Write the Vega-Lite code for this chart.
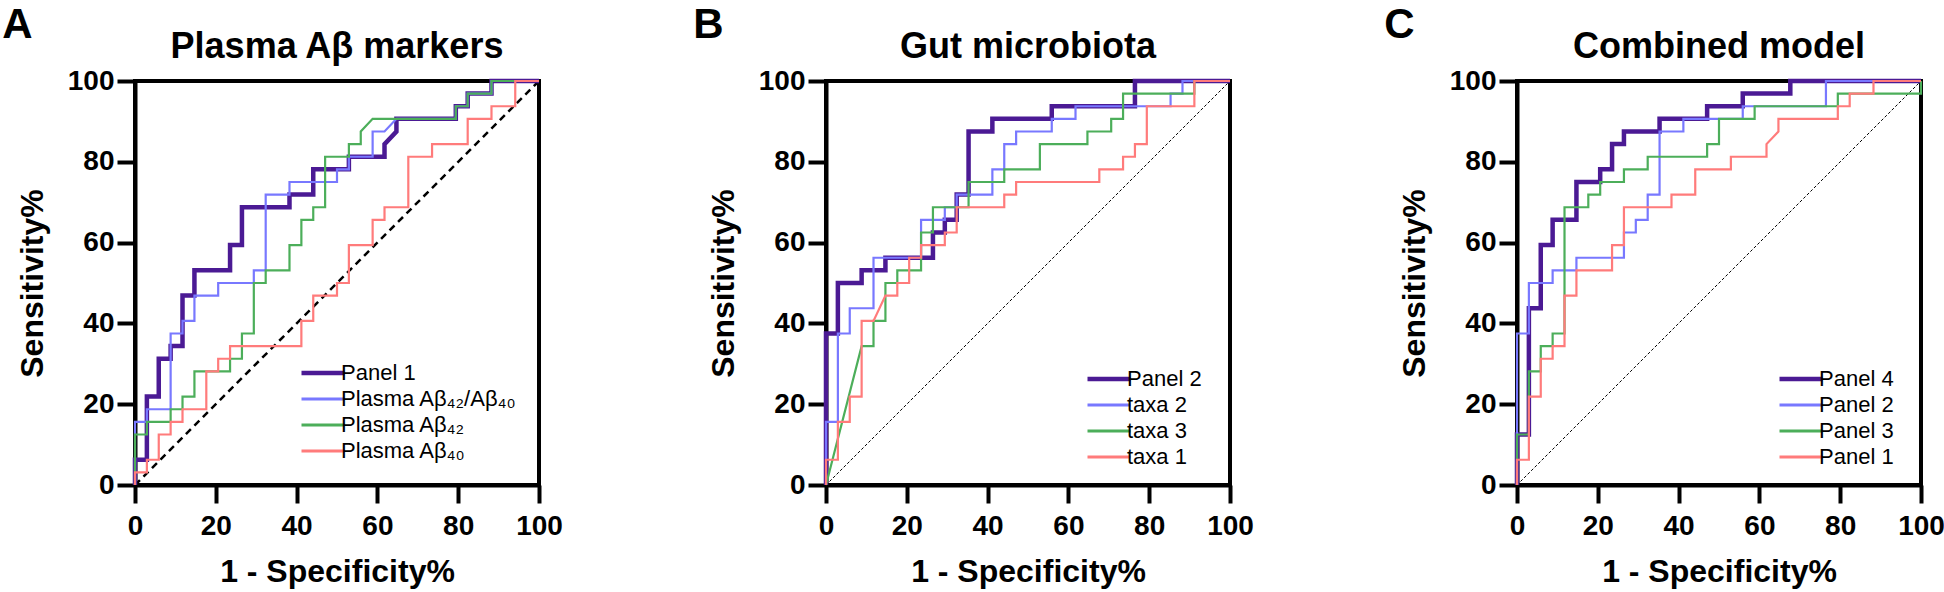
{
"$schema": "https://vega.github.io/schema/vega-lite/v6.json",
"padding": {"left": 2, "top": 4, "right": 0, "bottom": 0},
"config": {
 "font": "Liberation Sans",
 "view": {"stroke": "black", "strokeWidth": 4},
 "axis": {"domainColor": "black", "domainWidth": 4, "tickColor": "black", "tickWidth": 4, "tickSize": 18, "labelFont": "Liberation Sans", "labelFontSize": 28, "labelFontWeight": "bold", "labelColor": "black", "titleFont": "Liberation Sans", "titleFontSize": 32, "titleFontWeight": "bold", "titleColor": "black", "grid": false, "labelFlush": false, "labelOverlap": false},
 "axisX": {"labelPadding": 9, "titlePadding": 16},
 "axisY": {"labelPadding": 3, "titlePadding": 18},
 "title": {"font": "Liberation Sans", "fontWeight": "bold", "color": "black"},
 "legend": {"orient": "none", "padding": 0, "symbolType": "stroke", "symbolSize": 1849, "symbolStrokeWidth": 3, "labelFontSize": 22, "labelFont": "Liberation Sans", "labelColor": "black", "labelOffset": 7, "rowPadding": 4, "labelLimit": 400}
},
"datasets": {
 "diag": [{"x": 0, "y": 0}, {"x": 100, "y": 100}],
 "rocA": [
{"s":"Panel 1","i":0,"x":0,"y":0},{"s":"Panel 1","i":1,"x":0,"y":6.25},{"s":"Panel 1","i":2,"x":2.94,"y":6.25},{"s":"Panel 1","i":3,"x":2.94,"y":21.88},{"s":"Panel 1","i":4,"x":5.88,"y":21.88},{"s":"Panel 1","i":5,"x":5.88,"y":31.25},{"s":"Panel 1","i":6,"x":8.82,"y":31.25},{"s":"Panel 1","i":7,"x":8.82,"y":34.38},{"s":"Panel 1","i":8,"x":11.76,"y":34.38},{"s":"Panel 1","i":9,"x":11.76,"y":46.88},{"s":"Panel 1","i":10,"x":14.71,"y":46.88},{"s":"Panel 1","i":11,"x":14.71,"y":53.13},{"s":"Panel 1","i":12,"x":23.53,"y":53.13},{"s":"Panel 1","i":13,"x":23.53,"y":59.38},{"s":"Panel 1","i":14,"x":26.47,"y":59.38},{"s":"Panel 1","i":15,"x":26.47,"y":68.75},{"s":"Panel 1","i":16,"x":38.24,"y":68.75},{"s":"Panel 1","i":17,"x":38.24,"y":71.88},{"s":"Panel 1","i":18,"x":44.12,"y":71.88},{"s":"Panel 1","i":19,"x":44.12,"y":78.13},{"s":"Panel 1","i":20,"x":52.94,"y":78.13},{"s":"Panel 1","i":21,"x":52.94,"y":81.25},{"s":"Panel 1","i":22,"x":61.76,"y":81.25},{"s":"Panel 1","i":23,"x":61.76,"y":84.38},{"s":"Panel 1","i":24,"x":64.71,"y":87.5},{"s":"Panel 1","i":25,"x":64.71,"y":90.63},{"s":"Panel 1","i":26,"x":79.41,"y":90.63},{"s":"Panel 1","i":27,"x":79.41,"y":93.75},{"s":"Panel 1","i":28,"x":82.35,"y":93.75},{"s":"Panel 1","i":29,"x":82.35,"y":96.88},{"s":"Panel 1","i":30,"x":88.24,"y":96.88},{"s":"Panel 1","i":31,"x":88.24,"y":100},{"s":"Panel 1","i":32,"x":100,"y":100},
{"s":"Plasma Aβ₄₂/Aβ₄₀","i":0,"x":0,"y":0},{"s":"Plasma Aβ₄₂/Aβ₄₀","i":1,"x":0,"y":15.63},{"s":"Plasma Aβ₄₂/Aβ₄₀","i":2,"x":2.94,"y":15.63},{"s":"Plasma Aβ₄₂/Aβ₄₀","i":3,"x":2.94,"y":18.75},{"s":"Plasma Aβ₄₂/Aβ₄₀","i":4,"x":8.82,"y":18.75},{"s":"Plasma Aβ₄₂/Aβ₄₀","i":5,"x":8.82,"y":37.5},{"s":"Plasma Aβ₄₂/Aβ₄₀","i":6,"x":11.76,"y":37.5},{"s":"Plasma Aβ₄₂/Aβ₄₀","i":7,"x":11.76,"y":40.63},{"s":"Plasma Aβ₄₂/Aβ₄₀","i":8,"x":14.71,"y":40.63},{"s":"Plasma Aβ₄₂/Aβ₄₀","i":9,"x":14.71,"y":46.88},{"s":"Plasma Aβ₄₂/Aβ₄₀","i":10,"x":20.59,"y":46.88},{"s":"Plasma Aβ₄₂/Aβ₄₀","i":11,"x":20.59,"y":50},{"s":"Plasma Aβ₄₂/Aβ₄₀","i":12,"x":29.41,"y":50},{"s":"Plasma Aβ₄₂/Aβ₄₀","i":13,"x":29.41,"y":53.13},{"s":"Plasma Aβ₄₂/Aβ₄₀","i":14,"x":32.35,"y":53.13},{"s":"Plasma Aβ₄₂/Aβ₄₀","i":15,"x":32.35,"y":71.88},{"s":"Plasma Aβ₄₂/Aβ₄₀","i":16,"x":38.24,"y":71.88},{"s":"Plasma Aβ₄₂/Aβ₄₀","i":17,"x":38.24,"y":75},{"s":"Plasma Aβ₄₂/Aβ₄₀","i":18,"x":50,"y":75},{"s":"Plasma Aβ₄₂/Aβ₄₀","i":19,"x":50,"y":78.13},{"s":"Plasma Aβ₄₂/Aβ₄₀","i":20,"x":52.94,"y":78.13},{"s":"Plasma Aβ₄₂/Aβ₄₀","i":21,"x":52.94,"y":81.25},{"s":"Plasma Aβ₄₂/Aβ₄₀","i":22,"x":58.82,"y":81.25},{"s":"Plasma Aβ₄₂/Aβ₄₀","i":23,"x":58.82,"y":87.5},{"s":"Plasma Aβ₄₂/Aβ₄₀","i":24,"x":61.76,"y":87.5},{"s":"Plasma Aβ₄₂/Aβ₄₀","i":25,"x":64.71,"y":90.63},{"s":"Plasma Aβ₄₂/Aβ₄₀","i":26,"x":79.41,"y":90.63},{"s":"Plasma Aβ₄₂/Aβ₄₀","i":27,"x":79.41,"y":93.75},{"s":"Plasma Aβ₄₂/Aβ₄₀","i":28,"x":82.35,"y":93.75},{"s":"Plasma Aβ₄₂/Aβ₄₀","i":29,"x":82.35,"y":96.88},{"s":"Plasma Aβ₄₂/Aβ₄₀","i":30,"x":88.24,"y":96.88},{"s":"Plasma Aβ₄₂/Aβ₄₀","i":31,"x":88.24,"y":100},{"s":"Plasma Aβ₄₂/Aβ₄₀","i":32,"x":100,"y":100},
{"s":"Plasma Aβ₄₂","i":0,"x":0,"y":0},{"s":"Plasma Aβ₄₂","i":1,"x":0,"y":12.5},{"s":"Plasma Aβ₄₂","i":2,"x":2.94,"y":12.5},{"s":"Plasma Aβ₄₂","i":3,"x":2.94,"y":15.63},{"s":"Plasma Aβ₄₂","i":4,"x":8.82,"y":15.63},{"s":"Plasma Aβ₄₂","i":5,"x":8.82,"y":18.75},{"s":"Plasma Aβ₄₂","i":6,"x":11.76,"y":18.75},{"s":"Plasma Aβ₄₂","i":7,"x":11.76,"y":21.88},{"s":"Plasma Aβ₄₂","i":8,"x":14.71,"y":21.88},{"s":"Plasma Aβ₄₂","i":9,"x":14.71,"y":28.13},{"s":"Plasma Aβ₄₂","i":10,"x":23.53,"y":28.13},{"s":"Plasma Aβ₄₂","i":11,"x":23.53,"y":31.25},{"s":"Plasma Aβ₄₂","i":12,"x":26.47,"y":31.25},{"s":"Plasma Aβ₄₂","i":13,"x":26.47,"y":37.5},{"s":"Plasma Aβ₄₂","i":14,"x":29.41,"y":37.5},{"s":"Plasma Aβ₄₂","i":15,"x":29.41,"y":50},{"s":"Plasma Aβ₄₂","i":16,"x":32.35,"y":50},{"s":"Plasma Aβ₄₂","i":17,"x":32.35,"y":53.13},{"s":"Plasma Aβ₄₂","i":18,"x":38.24,"y":53.13},{"s":"Plasma Aβ₄₂","i":19,"x":38.24,"y":59.38},{"s":"Plasma Aβ₄₂","i":20,"x":41.18,"y":59.38},{"s":"Plasma Aβ₄₂","i":21,"x":41.18,"y":65.63},{"s":"Plasma Aβ₄₂","i":22,"x":44.12,"y":65.63},{"s":"Plasma Aβ₄₂","i":23,"x":44.12,"y":68.75},{"s":"Plasma Aβ₄₂","i":24,"x":47.06,"y":68.75},{"s":"Plasma Aβ₄₂","i":25,"x":47.06,"y":81.25},{"s":"Plasma Aβ₄₂","i":26,"x":52.94,"y":81.25},{"s":"Plasma Aβ₄₂","i":27,"x":52.94,"y":84.38},{"s":"Plasma Aβ₄₂","i":28,"x":55.88,"y":84.38},{"s":"Plasma Aβ₄₂","i":29,"x":55.88,"y":87.5},{"s":"Plasma Aβ₄₂","i":30,"x":58.82,"y":90.63},{"s":"Plasma Aβ₄₂","i":31,"x":79.41,"y":90.63},{"s":"Plasma Aβ₄₂","i":32,"x":79.41,"y":93.75},{"s":"Plasma Aβ₄₂","i":33,"x":82.35,"y":93.75},{"s":"Plasma Aβ₄₂","i":34,"x":82.35,"y":96.88},{"s":"Plasma Aβ₄₂","i":35,"x":88.24,"y":96.88},{"s":"Plasma Aβ₄₂","i":36,"x":88.24,"y":100},{"s":"Plasma Aβ₄₂","i":37,"x":100,"y":100},
{"s":"Plasma Aβ₄₀","i":0,"x":0,"y":0},{"s":"Plasma Aβ₄₀","i":1,"x":0,"y":3.13},{"s":"Plasma Aβ₄₀","i":2,"x":2.94,"y":3.13},{"s":"Plasma Aβ₄₀","i":3,"x":2.94,"y":6.25},{"s":"Plasma Aβ₄₀","i":4,"x":5.88,"y":6.25},{"s":"Plasma Aβ₄₀","i":5,"x":5.88,"y":12.5},{"s":"Plasma Aβ₄₀","i":6,"x":8.82,"y":12.5},{"s":"Plasma Aβ₄₀","i":7,"x":8.82,"y":15.63},{"s":"Plasma Aβ₄₀","i":8,"x":11.76,"y":15.63},{"s":"Plasma Aβ₄₀","i":9,"x":11.76,"y":18.75},{"s":"Plasma Aβ₄₀","i":10,"x":17.65,"y":18.75},{"s":"Plasma Aβ₄₀","i":11,"x":17.65,"y":28.13},{"s":"Plasma Aβ₄₀","i":12,"x":20.59,"y":28.13},{"s":"Plasma Aβ₄₀","i":13,"x":20.59,"y":31.25},{"s":"Plasma Aβ₄₀","i":14,"x":23.53,"y":31.25},{"s":"Plasma Aβ₄₀","i":15,"x":23.53,"y":34.38},{"s":"Plasma Aβ₄₀","i":16,"x":41.18,"y":34.38},{"s":"Plasma Aβ₄₀","i":17,"x":41.18,"y":40.63},{"s":"Plasma Aβ₄₀","i":18,"x":44.12,"y":40.63},{"s":"Plasma Aβ₄₀","i":19,"x":44.12,"y":46.88},{"s":"Plasma Aβ₄₀","i":20,"x":50,"y":46.88},{"s":"Plasma Aβ₄₀","i":21,"x":50,"y":50},{"s":"Plasma Aβ₄₀","i":22,"x":52.94,"y":50},{"s":"Plasma Aβ₄₀","i":23,"x":52.94,"y":59.38},{"s":"Plasma Aβ₄₀","i":24,"x":58.82,"y":59.38},{"s":"Plasma Aβ₄₀","i":25,"x":58.82,"y":65.63},{"s":"Plasma Aβ₄₀","i":26,"x":61.76,"y":65.63},{"s":"Plasma Aβ₄₀","i":27,"x":61.76,"y":68.75},{"s":"Plasma Aβ₄₀","i":28,"x":67.65,"y":68.75},{"s":"Plasma Aβ₄₀","i":29,"x":67.65,"y":81.25},{"s":"Plasma Aβ₄₀","i":30,"x":73.53,"y":81.25},{"s":"Plasma Aβ₄₀","i":31,"x":73.53,"y":84.38},{"s":"Plasma Aβ₄₀","i":32,"x":82.35,"y":84.38},{"s":"Plasma Aβ₄₀","i":33,"x":82.35,"y":90.63},{"s":"Plasma Aβ₄₀","i":34,"x":88.24,"y":90.63},{"s":"Plasma Aβ₄₀","i":35,"x":88.24,"y":93.75},{"s":"Plasma Aβ₄₀","i":36,"x":94.12,"y":93.75},{"s":"Plasma Aβ₄₀","i":37,"x":94.12,"y":100},{"s":"Plasma Aβ₄₀","i":38,"x":100,"y":100}
 ],
 "rocB": [
{"s":"Panel 2","i":0,"x":0,"y":0},{"s":"Panel 2","i":1,"x":0,"y":37.5},{"s":"Panel 2","i":2,"x":2.94,"y":37.5},{"s":"Panel 2","i":3,"x":2.94,"y":50},{"s":"Panel 2","i":4,"x":8.82,"y":50},{"s":"Panel 2","i":5,"x":8.82,"y":53.13},{"s":"Panel 2","i":6,"x":14.71,"y":53.13},{"s":"Panel 2","i":7,"x":14.71,"y":56.25},{"s":"Panel 2","i":8,"x":26.47,"y":56.25},{"s":"Panel 2","i":9,"x":26.47,"y":62.5},{"s":"Panel 2","i":10,"x":29.41,"y":62.5},{"s":"Panel 2","i":11,"x":29.41,"y":65.63},{"s":"Panel 2","i":12,"x":32.35,"y":65.63},{"s":"Panel 2","i":13,"x":32.35,"y":71.88},{"s":"Panel 2","i":14,"x":35.29,"y":71.88},{"s":"Panel 2","i":15,"x":35.29,"y":87.5},{"s":"Panel 2","i":16,"x":41.18,"y":87.5},{"s":"Panel 2","i":17,"x":41.18,"y":90.63},{"s":"Panel 2","i":18,"x":55.88,"y":90.63},{"s":"Panel 2","i":19,"x":55.88,"y":93.75},{"s":"Panel 2","i":20,"x":76.47,"y":93.75},{"s":"Panel 2","i":21,"x":76.47,"y":100},{"s":"Panel 2","i":22,"x":100,"y":100},
{"s":"taxa 2","i":0,"x":0,"y":0},{"s":"taxa 2","i":1,"x":0,"y":15.63},{"s":"taxa 2","i":2,"x":2.94,"y":15.63},{"s":"taxa 2","i":3,"x":2.94,"y":37.5},{"s":"taxa 2","i":4,"x":5.88,"y":37.5},{"s":"taxa 2","i":5,"x":5.88,"y":43.75},{"s":"taxa 2","i":6,"x":11.76,"y":43.75},{"s":"taxa 2","i":7,"x":11.76,"y":56.25},{"s":"taxa 2","i":8,"x":23.53,"y":56.25},{"s":"taxa 2","i":9,"x":23.53,"y":65.63},{"s":"taxa 2","i":10,"x":29.41,"y":65.63},{"s":"taxa 2","i":11,"x":29.41,"y":68.75},{"s":"taxa 2","i":12,"x":32.35,"y":68.75},{"s":"taxa 2","i":13,"x":32.35,"y":71.88},{"s":"taxa 2","i":14,"x":41.18,"y":71.88},{"s":"taxa 2","i":15,"x":41.18,"y":78.13},{"s":"taxa 2","i":16,"x":44.12,"y":78.13},{"s":"taxa 2","i":17,"x":44.12,"y":84.38},{"s":"taxa 2","i":18,"x":47.06,"y":84.38},{"s":"taxa 2","i":19,"x":47.06,"y":87.5},{"s":"taxa 2","i":20,"x":55.88,"y":87.5},{"s":"taxa 2","i":21,"x":55.88,"y":90.63},{"s":"taxa 2","i":22,"x":61.76,"y":90.63},{"s":"taxa 2","i":23,"x":61.76,"y":93.75},{"s":"taxa 2","i":24,"x":85.29,"y":93.75},{"s":"taxa 2","i":25,"x":85.29,"y":96.88},{"s":"taxa 2","i":26,"x":88.24,"y":96.88},{"s":"taxa 2","i":27,"x":88.24,"y":100},{"s":"taxa 2","i":28,"x":100,"y":100},
{"s":"taxa 3","i":0,"x":0,"y":0},{"s":"taxa 3","i":1,"x":8.82,"y":34.38},{"s":"taxa 3","i":2,"x":11.76,"y":34.38},{"s":"taxa 3","i":3,"x":11.76,"y":40.63},{"s":"taxa 3","i":4,"x":14.71,"y":40.63},{"s":"taxa 3","i":5,"x":14.71,"y":50},{"s":"taxa 3","i":6,"x":17.65,"y":50},{"s":"taxa 3","i":7,"x":17.65,"y":53.13},{"s":"taxa 3","i":8,"x":23.53,"y":53.13},{"s":"taxa 3","i":9,"x":23.53,"y":62.5},{"s":"taxa 3","i":10,"x":26.47,"y":62.5},{"s":"taxa 3","i":11,"x":26.47,"y":68.75},{"s":"taxa 3","i":12,"x":35.29,"y":68.75},{"s":"taxa 3","i":13,"x":35.29,"y":75},{"s":"taxa 3","i":14,"x":44.12,"y":75},{"s":"taxa 3","i":15,"x":44.12,"y":78.13},{"s":"taxa 3","i":16,"x":52.94,"y":78.13},{"s":"taxa 3","i":17,"x":52.94,"y":84.38},{"s":"taxa 3","i":18,"x":64.71,"y":84.38},{"s":"taxa 3","i":19,"x":64.71,"y":87.5},{"s":"taxa 3","i":20,"x":70.59,"y":87.5},{"s":"taxa 3","i":21,"x":70.59,"y":90.63},{"s":"taxa 3","i":22,"x":73.53,"y":90.63},{"s":"taxa 3","i":23,"x":73.53,"y":96.88},{"s":"taxa 3","i":24,"x":91.18,"y":96.88},{"s":"taxa 3","i":25,"x":91.18,"y":100},{"s":"taxa 3","i":26,"x":100,"y":100},
{"s":"taxa 1","i":0,"x":0,"y":0},{"s":"taxa 1","i":1,"x":0,"y":6.25},{"s":"taxa 1","i":2,"x":2.94,"y":6.25},{"s":"taxa 1","i":3,"x":2.94,"y":15.63},{"s":"taxa 1","i":4,"x":5.88,"y":15.63},{"s":"taxa 1","i":5,"x":5.88,"y":21.88},{"s":"taxa 1","i":6,"x":8.82,"y":21.88},{"s":"taxa 1","i":7,"x":8.82,"y":40.63},{"s":"taxa 1","i":8,"x":11.76,"y":40.63},{"s":"taxa 1","i":9,"x":14.71,"y":46.88},{"s":"taxa 1","i":10,"x":17.65,"y":46.88},{"s":"taxa 1","i":11,"x":17.65,"y":50},{"s":"taxa 1","i":12,"x":20.59,"y":50},{"s":"taxa 1","i":13,"x":20.59,"y":56.25},{"s":"taxa 1","i":14,"x":23.53,"y":56.25},{"s":"taxa 1","i":15,"x":23.53,"y":59.38},{"s":"taxa 1","i":16,"x":29.41,"y":59.38},{"s":"taxa 1","i":17,"x":29.41,"y":62.5},{"s":"taxa 1","i":18,"x":32.35,"y":62.5},{"s":"taxa 1","i":19,"x":32.35,"y":68.75},{"s":"taxa 1","i":20,"x":44.12,"y":68.75},{"s":"taxa 1","i":21,"x":44.12,"y":71.88},{"s":"taxa 1","i":22,"x":47.06,"y":71.88},{"s":"taxa 1","i":23,"x":47.06,"y":75},{"s":"taxa 1","i":24,"x":67.65,"y":75},{"s":"taxa 1","i":25,"x":67.65,"y":78.13},{"s":"taxa 1","i":26,"x":73.53,"y":78.13},{"s":"taxa 1","i":27,"x":73.53,"y":81.25},{"s":"taxa 1","i":28,"x":76.47,"y":81.25},{"s":"taxa 1","i":29,"x":76.47,"y":84.38},{"s":"taxa 1","i":30,"x":79.41,"y":84.38},{"s":"taxa 1","i":31,"x":79.41,"y":93.75},{"s":"taxa 1","i":32,"x":91.18,"y":93.75},{"s":"taxa 1","i":33,"x":91.18,"y":100},{"s":"taxa 1","i":34,"x":100,"y":100}
 ],
 "rocC": [
{"s":"Panel 4","i":0,"x":0,"y":0},{"s":"Panel 4","i":1,"x":0,"y":12.5},{"s":"Panel 4","i":2,"x":2.94,"y":12.5},{"s":"Panel 4","i":3,"x":2.94,"y":43.75},{"s":"Panel 4","i":4,"x":5.88,"y":43.75},{"s":"Panel 4","i":5,"x":5.88,"y":59.38},{"s":"Panel 4","i":6,"x":8.82,"y":59.38},{"s":"Panel 4","i":7,"x":8.82,"y":65.63},{"s":"Panel 4","i":8,"x":14.71,"y":65.63},{"s":"Panel 4","i":9,"x":14.71,"y":75},{"s":"Panel 4","i":10,"x":20.59,"y":75},{"s":"Panel 4","i":11,"x":20.59,"y":78.13},{"s":"Panel 4","i":12,"x":23.53,"y":78.13},{"s":"Panel 4","i":13,"x":23.53,"y":84.38},{"s":"Panel 4","i":14,"x":26.47,"y":84.38},{"s":"Panel 4","i":15,"x":26.47,"y":87.5},{"s":"Panel 4","i":16,"x":35.29,"y":87.5},{"s":"Panel 4","i":17,"x":35.29,"y":90.63},{"s":"Panel 4","i":18,"x":47.06,"y":90.63},{"s":"Panel 4","i":19,"x":47.06,"y":93.75},{"s":"Panel 4","i":20,"x":55.88,"y":93.75},{"s":"Panel 4","i":21,"x":55.88,"y":96.88},{"s":"Panel 4","i":22,"x":67.65,"y":96.88},{"s":"Panel 4","i":23,"x":67.65,"y":100},{"s":"Panel 4","i":24,"x":100,"y":100},
{"s":"Panel 2","i":0,"x":0,"y":0},{"s":"Panel 2","i":1,"x":0,"y":37.5},{"s":"Panel 2","i":2,"x":2.94,"y":37.5},{"s":"Panel 2","i":3,"x":2.94,"y":50},{"s":"Panel 2","i":4,"x":8.82,"y":50},{"s":"Panel 2","i":5,"x":8.82,"y":53.13},{"s":"Panel 2","i":6,"x":14.71,"y":53.13},{"s":"Panel 2","i":7,"x":14.71,"y":56.25},{"s":"Panel 2","i":8,"x":26.47,"y":56.25},{"s":"Panel 2","i":9,"x":26.47,"y":62.5},{"s":"Panel 2","i":10,"x":29.41,"y":62.5},{"s":"Panel 2","i":11,"x":29.41,"y":65.63},{"s":"Panel 2","i":12,"x":32.35,"y":65.63},{"s":"Panel 2","i":13,"x":32.35,"y":71.88},{"s":"Panel 2","i":14,"x":35.29,"y":71.88},{"s":"Panel 2","i":15,"x":35.29,"y":87.5},{"s":"Panel 2","i":16,"x":41.18,"y":87.5},{"s":"Panel 2","i":17,"x":41.18,"y":90.63},{"s":"Panel 2","i":18,"x":55.88,"y":90.63},{"s":"Panel 2","i":19,"x":55.88,"y":93.75},{"s":"Panel 2","i":20,"x":76.47,"y":93.75},{"s":"Panel 2","i":21,"x":76.47,"y":100},{"s":"Panel 2","i":22,"x":100,"y":100},
{"s":"Panel 3","i":0,"x":0,"y":0},{"s":"Panel 3","i":1,"x":0,"y":12.5},{"s":"Panel 3","i":2,"x":2.94,"y":12.5},{"s":"Panel 3","i":3,"x":2.94,"y":28.13},{"s":"Panel 3","i":4,"x":5.88,"y":28.13},{"s":"Panel 3","i":5,"x":5.88,"y":34.38},{"s":"Panel 3","i":6,"x":8.82,"y":34.38},{"s":"Panel 3","i":7,"x":8.82,"y":37.5},{"s":"Panel 3","i":8,"x":11.76,"y":37.5},{"s":"Panel 3","i":9,"x":11.76,"y":68.75},{"s":"Panel 3","i":10,"x":17.65,"y":68.75},{"s":"Panel 3","i":11,"x":17.65,"y":71.88},{"s":"Panel 3","i":12,"x":20.59,"y":71.88},{"s":"Panel 3","i":13,"x":20.59,"y":75},{"s":"Panel 3","i":14,"x":26.47,"y":75},{"s":"Panel 3","i":15,"x":26.47,"y":78.13},{"s":"Panel 3","i":16,"x":32.35,"y":78.13},{"s":"Panel 3","i":17,"x":32.35,"y":81.25},{"s":"Panel 3","i":18,"x":47.06,"y":81.25},{"s":"Panel 3","i":19,"x":47.06,"y":84.38},{"s":"Panel 3","i":20,"x":50,"y":84.38},{"s":"Panel 3","i":21,"x":50,"y":90.63},{"s":"Panel 3","i":22,"x":58.82,"y":90.63},{"s":"Panel 3","i":23,"x":58.82,"y":93.75},{"s":"Panel 3","i":24,"x":79.41,"y":93.75},{"s":"Panel 3","i":25,"x":79.41,"y":96.88},{"s":"Panel 3","i":26,"x":100,"y":96.88},{"s":"Panel 3","i":27,"x":100,"y":100},
{"s":"Panel 1","i":0,"x":0,"y":0},{"s":"Panel 1","i":1,"x":0,"y":6.25},{"s":"Panel 1","i":2,"x":2.94,"y":6.25},{"s":"Panel 1","i":3,"x":2.94,"y":21.88},{"s":"Panel 1","i":4,"x":5.88,"y":21.88},{"s":"Panel 1","i":5,"x":5.88,"y":31.25},{"s":"Panel 1","i":6,"x":8.82,"y":31.25},{"s":"Panel 1","i":7,"x":8.82,"y":34.38},{"s":"Panel 1","i":8,"x":11.76,"y":34.38},{"s":"Panel 1","i":9,"x":11.76,"y":46.88},{"s":"Panel 1","i":10,"x":14.71,"y":46.88},{"s":"Panel 1","i":11,"x":14.71,"y":53.13},{"s":"Panel 1","i":12,"x":23.53,"y":53.13},{"s":"Panel 1","i":13,"x":23.53,"y":59.38},{"s":"Panel 1","i":14,"x":26.47,"y":59.38},{"s":"Panel 1","i":15,"x":26.47,"y":68.75},{"s":"Panel 1","i":16,"x":38.24,"y":68.75},{"s":"Panel 1","i":17,"x":38.24,"y":71.88},{"s":"Panel 1","i":18,"x":44.12,"y":71.88},{"s":"Panel 1","i":19,"x":44.12,"y":78.13},{"s":"Panel 1","i":20,"x":52.94,"y":78.13},{"s":"Panel 1","i":21,"x":52.94,"y":81.25},{"s":"Panel 1","i":22,"x":61.76,"y":81.25},{"s":"Panel 1","i":23,"x":61.76,"y":84.38},{"s":"Panel 1","i":24,"x":64.71,"y":87.5},{"s":"Panel 1","i":25,"x":64.71,"y":90.63},{"s":"Panel 1","i":26,"x":79.41,"y":90.63},{"s":"Panel 1","i":27,"x":79.41,"y":93.75},{"s":"Panel 1","i":28,"x":82.35,"y":93.75},{"s":"Panel 1","i":29,"x":82.35,"y":96.88},{"s":"Panel 1","i":30,"x":88.24,"y":96.88},{"s":"Panel 1","i":31,"x":88.24,"y":100},{"s":"Panel 1","i":32,"x":100,"y":100}
 ]
},
"spacing": 128,
"resolve": {"scale": {"color": "independent"}, "legend": {"color": "independent"}},
"hconcat": [
 {"title": {"text": "A", "anchor": "start", "fontSize": 42, "dx": -12, "offset": -20},
  "resolve": {"scale": {"color": "independent"}, "legend": {"color": "independent"}},
  "vconcat": [
  {"title": {"text": "Plasma Aβ markers", "fontSize": 36, "baseline": "alphabetic", "offset": -27},
   "width": 404, "height": 404,
   "encoding": {"x": {"field": "x", "type": "quantitative", "scale": {"domain": [0, 100], "nice": false}, "axis": {"values": [0, 20, 40, 60, 80, 100], "title": "1 - Specificity%"}},
                "y": {"field": "y", "type": "quantitative", "scale": {"domain": [0, 100], "nice": false}, "axis": {"values": [0, 20, 40, 60, 80, 100], "title": "Sensitivity%"}}},
   "layer": [
    {"data": {"name": "diag"}, "mark": {"type": "line", "color": "black", "strokeWidth": 2.5, "strokeDash": [7, 5]}},
    {"data": {"name": "rocA"}, "transform": [{"filter": "datum.s === 'Panel 1'"}], "mark": {"type": "line", "strokeWidth": 4.5},
     "encoding": {"order": {"field": "i", "type": "quantitative"},
      "color": {"field": "s", "type": "nominal", "scale": {"domain": ["Panel 1", "Plasma Aβ₄₂/Aβ₄₀", "Plasma Aβ₄₂", "Plasma Aβ₄₀"], "range": ["#4b1a94", "#7878ff", "#4cae5a", "#ff7b7b"]},
       "legend": {"title": null, "orient": "none", "legendX": 177, "legendY": 281, "encode": {"symbols": {"update": {"strokeWidth": {"signal": "datum.value === 'Panel 1' ? 4.5 : 3"}}}}}}}},
    {"data": {"name": "rocA"}, "transform": [{"filter": "datum.s !== 'Panel 1'"}], "mark": {"type": "line", "strokeWidth": 2.2},
     "encoding": {"order": {"field": "i", "type": "quantitative"}, "color": {"field": "s", "type": "nominal"}}}
   ]}
 ]},
 {"title": {"text": "B", "anchor": "start", "fontSize": 42, "dx": -12, "offset": -20},
  "resolve": {"scale": {"color": "independent"}, "legend": {"color": "independent"}},
  "vconcat": [
  {"title": {"text": "Gut microbiota", "fontSize": 36, "baseline": "alphabetic", "offset": -27},
   "width": 404, "height": 404,
   "encoding": {"x": {"field": "x", "type": "quantitative", "scale": {"domain": [0, 100], "nice": false}, "axis": {"values": [0, 20, 40, 60, 80, 100], "title": "1 - Specificity%"}},
                "y": {"field": "y", "type": "quantitative", "scale": {"domain": [0, 100], "nice": false}, "axis": {"values": [0, 20, 40, 60, 80, 100], "title": "Sensitivity%"}}},
   "layer": [
    {"data": {"name": "diag"}, "mark": {"type": "line", "color": "black", "strokeWidth": 1, "strokeDash": [3, 2]}},
    {"data": {"name": "rocB"}, "transform": [{"filter": "datum.s === 'Panel 2'"}], "mark": {"type": "line", "strokeWidth": 4.5},
     "encoding": {"order": {"field": "i", "type": "quantitative"},
      "color": {"field": "s", "type": "nominal", "scale": {"domain": ["Panel 2", "taxa 2", "taxa 3", "taxa 1"], "range": ["#4b1a94", "#7878ff", "#4cae5a", "#ff7b7b"]},
       "legend": {"title": null, "orient": "none", "legendX": 272, "legendY": 287, "encode": {"symbols": {"update": {"strokeWidth": {"signal": "datum.value === 'Panel 2' ? 4.5 : 3"}}}}}}}},
    {"data": {"name": "rocB"}, "transform": [{"filter": "datum.s !== 'Panel 2'"}], "mark": {"type": "line", "strokeWidth": 2.2},
     "encoding": {"order": {"field": "i", "type": "quantitative"}, "color": {"field": "s", "type": "nominal"}}}
   ]}
 ]},
 {"title": {"text": "C", "anchor": "start", "fontSize": 42, "dx": -12, "offset": -20},
  "resolve": {"scale": {"color": "independent"}, "legend": {"color": "independent"}},
  "vconcat": [
  {"title": {"text": "Combined model", "fontSize": 36, "baseline": "alphabetic", "offset": -27},
   "width": 404, "height": 404,
   "encoding": {"x": {"field": "x", "type": "quantitative", "scale": {"domain": [0, 100], "nice": false}, "axis": {"values": [0, 20, 40, 60, 80, 100], "title": "1 - Specificity%"}},
                "y": {"field": "y", "type": "quantitative", "scale": {"domain": [0, 100], "nice": false}, "axis": {"values": [0, 20, 40, 60, 80, 100], "title": "Sensitivity%"}}},
   "layer": [
    {"data": {"name": "diag"}, "mark": {"type": "line", "color": "black", "strokeWidth": 1, "strokeDash": [3, 2]}},
    {"data": {"name": "rocC"}, "transform": [{"filter": "datum.s === 'Panel 4'"}], "mark": {"type": "line", "strokeWidth": 4.5},
     "encoding": {"order": {"field": "i", "type": "quantitative"},
      "color": {"field": "s", "type": "nominal", "scale": {"domain": ["Panel 4", "Panel 2", "Panel 3", "Panel 1"], "range": ["#4b1a94", "#7878ff", "#4cae5a", "#ff7b7b"]},
       "legend": {"title": null, "orient": "none", "legendX": 273, "legendY": 287, "encode": {"symbols": {"update": {"strokeWidth": {"signal": "datum.value === 'Panel 4' ? 4.5 : 3"}}}}}}}},
    {"data": {"name": "rocC"}, "transform": [{"filter": "datum.s !== 'Panel 4'"}], "mark": {"type": "line", "strokeWidth": 2.2},
     "encoding": {"order": {"field": "i", "type": "quantitative"}, "color": {"field": "s", "type": "nominal"}}}
   ]}
 ]}
]
}
